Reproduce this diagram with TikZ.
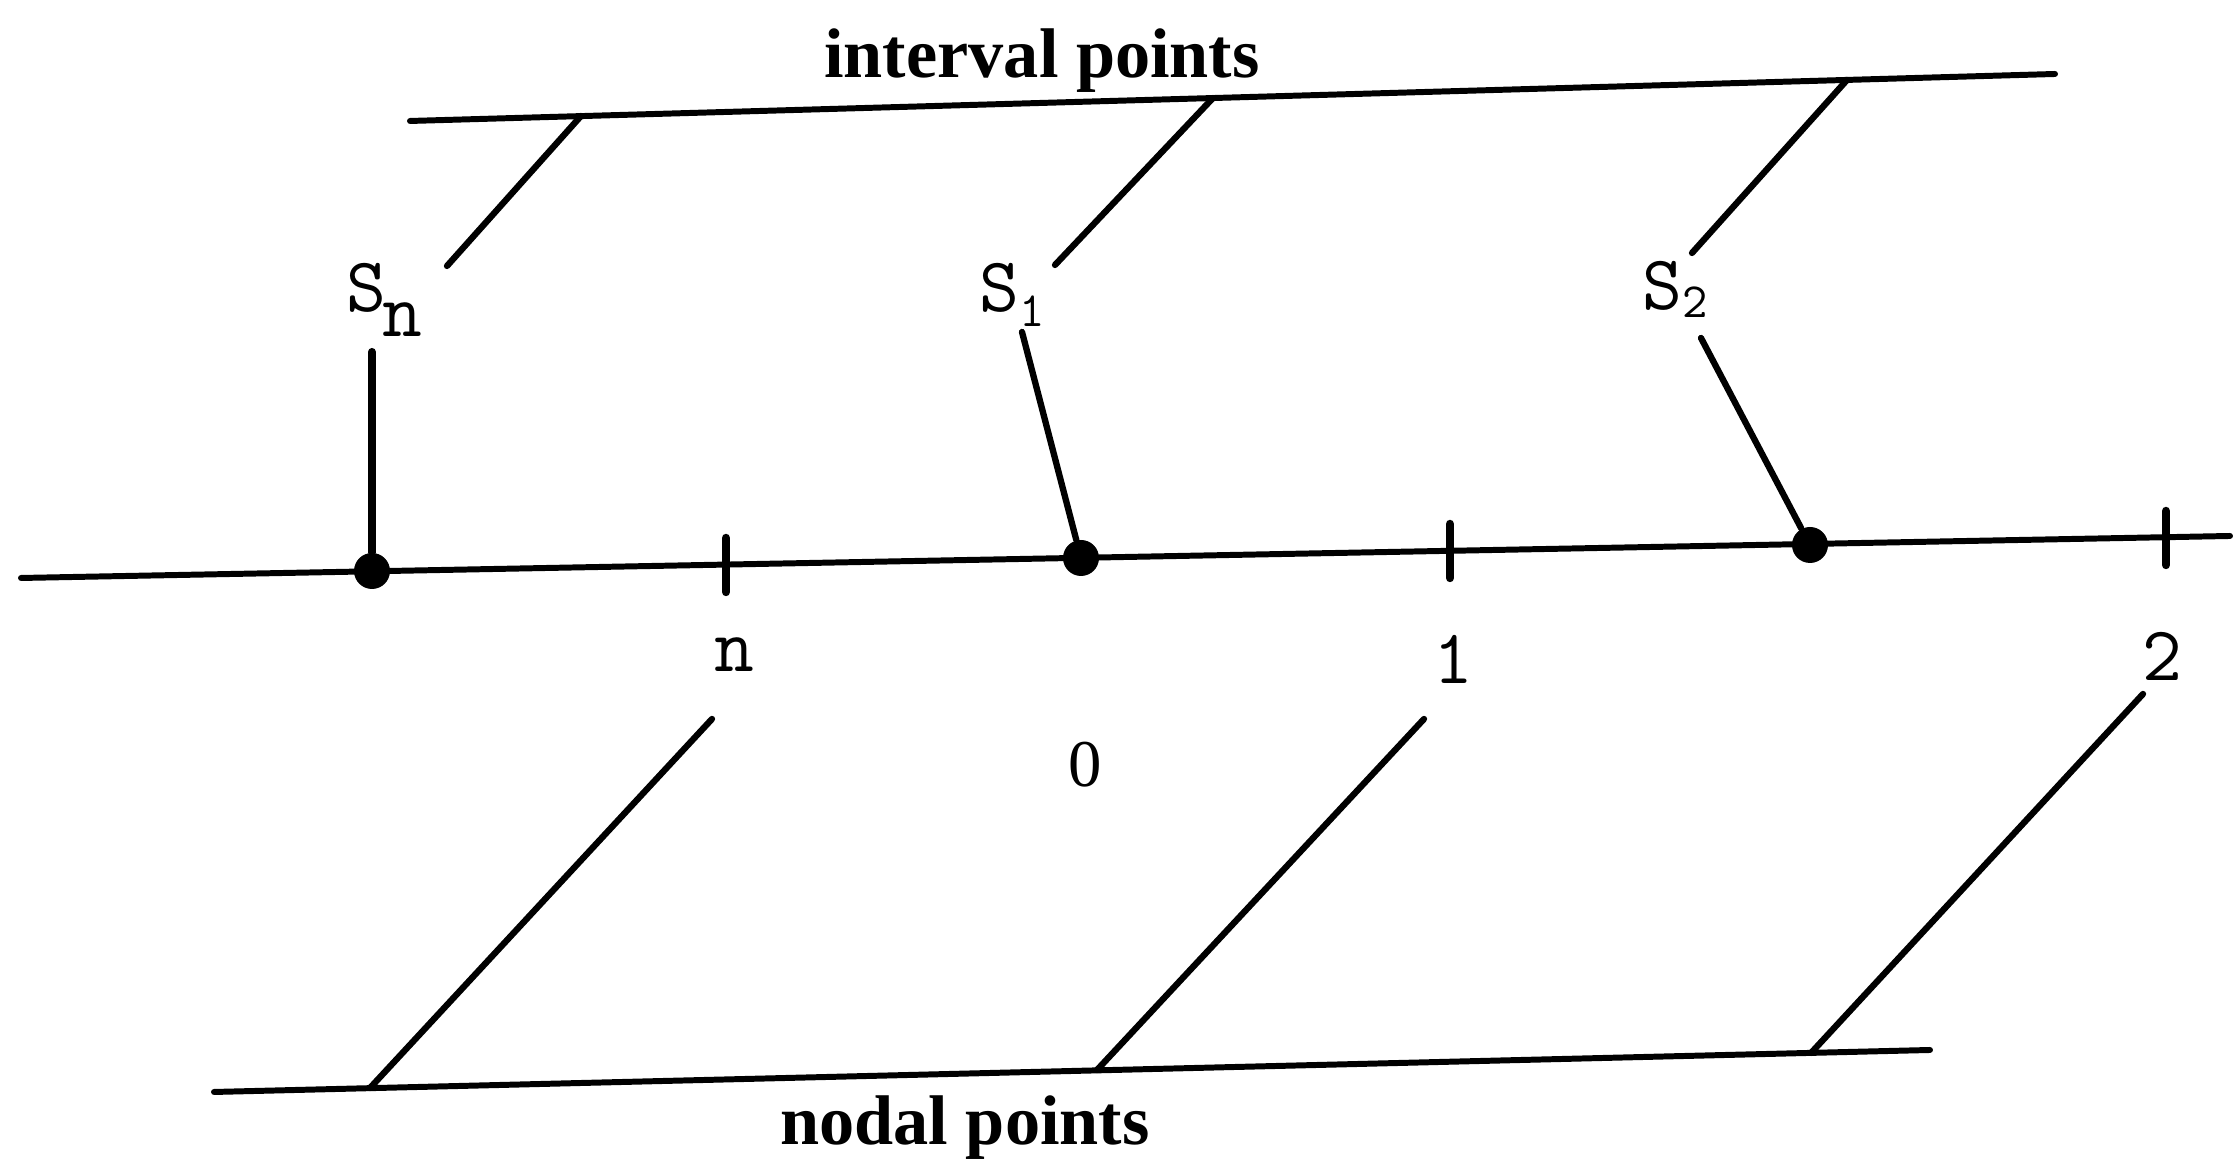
\documentclass[tikz,border=0pt]{standalone}
\usepackage{fontspec}
\setmainfont{Liberation Serif}
\usetikzlibrary{positioning}

\begin{document}
\begin{tikzpicture}[
        line cap=round,
        rail/.style={line width=1.7pt},
        stem/.style={line width=1.8pt},
        sample/.style={circle, fill=black, inner sep=0pt, minimum size=0.36cm},
        tickmark/.style={line width=2.4pt},
        caption/.style={font=\fontsize{20}{24}\selectfont\bfseries, anchor=base, inner sep=0pt},
        ticklabel/.style={font=\fontsize{22}{26}\selectfont\ttfamily, anchor=base, inner sep=0pt},
        slabel/.style={font=\fontsize{22}{26}\selectfont\ttfamily, anchor=base west, inner sep=0pt}
    ]
        \useasboundingbox (0,0) rectangle (22.33,11.67);

        % rails
        \coordinate (topL) at (4.10,10.46);
        \coordinate (topR) at (20.55,10.93);
        \coordinate (axL) at (0.21,5.89);
        \coordinate (axR) at (22.30,6.31);
        \coordinate (botL) at (2.14,0.75);
        \coordinate (botR) at (19.30,1.17);

        \draw[rail] (topL) -- (topR);
        \draw[rail] (axL) -- (axR);
        \draw[rail] (botL) -- (botR);

        % ticks at the nodal points
        \coordinate (tn) at (7.26,6.02);
        \coordinate (t1) at (14.50,6.16);
        \coordinate (t2) at (21.66,6.29);
        \foreach \t in {tn,t1,t2}
            \draw[tickmark] (\t) ++(0,-0.27) -- ++(0,0.54);

        % interval points on the axis
        \node (sn) [sample] at (3.72,5.96) {};
        \node (s1) [sample] at (10.81,6.09) {};
        \node (s2) [sample] at (18.10,6.22) {};

        % labels
        \node (intv) [caption] at (10.42,10.89) {interval points};
        \node (nodal) [caption] at (9.65,0.22) {nodal points};
        \node (lsn) [slabel] at (3.46,8.55) {S\kern-0.04cm\raisebox{-0.25cm}{n}};
        \node (ls1) [slabel] at (9.79,8.55) {S\raisebox{-0.15cm}{\fontsize{14}{14}\selectfont 1}};
        \node (ls2) [slabel] at (16.42,8.57) {S\raisebox{-0.08cm}{\fontsize{14}{14}\selectfont 2}};
        \node (ln) [ticklabel] at (7.34,4.95) {n};
        \node (l1) [ticklabel] at (14.53,4.83) {1};
        \node (l2) [ticklabel] at (21.62,4.86) {2};
        \node (l0) [caption, font=\fontsize{19}{24}\selectfont] at (10.85,3.80) {0};

        % S labels to the axis
        \coordinate (snlow) at (3.72,8.15);
        \coordinate (s1low) at (10.22,8.35);
        \coordinate (s2low) at (17.01,8.29);
        \draw[stem, line width=2.3pt] (snlow) -- (sn);
        \draw[stem] (s1low) -- (s1);
        \draw[stem] (s2low) -- (s2);

        % S labels to the interval points line
        \coordinate (snup) at (4.47,9.01);
        \coordinate (s1up) at (10.55,9.02);
        \coordinate (s2up) at (16.92,9.14);
        \coordinate (jn) at (5.81,10.51);
        \coordinate (j1) at (12.13,10.69);
        \coordinate (j2) at (18.47,10.87);
        \draw[stem] (snup) -- (jn);
        \draw[stem] (s1up) -- (j1);
        \draw[stem] (s2up) -- (j2);

        % tick labels to the nodal points line
        \coordinate (lnup) at (7.12,4.48);
        \coordinate (l1up) at (14.24,4.48);
        \coordinate (l2up) at (21.43,4.73);
        \coordinate (kn) at (3.70,0.79);
        \coordinate (k1) at (10.97,0.97);
        \coordinate (k2) at (18.11,1.14);
        \draw[stem] (lnup) -- (kn);
        \draw[stem] (l1up) -- (k1);
        \draw[stem] (l2up) -- (k2);
    \end{tikzpicture}
\end{document}
